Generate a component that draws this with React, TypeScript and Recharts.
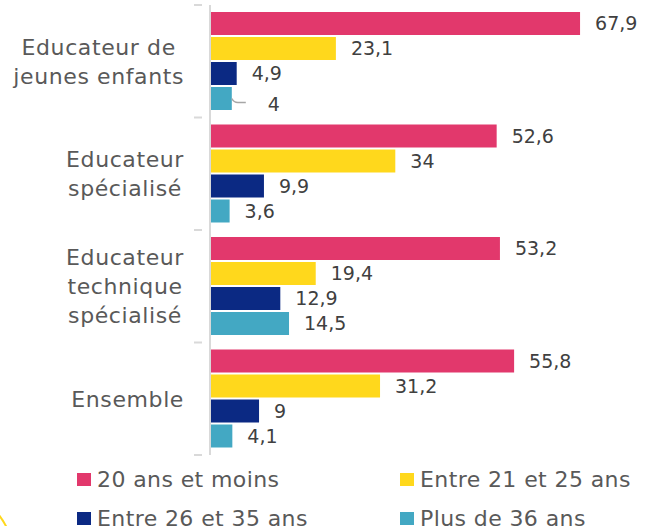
import { BarChart, Bar, XAxis, YAxis, LabelList, Legend } from 'recharts';

// catégories (une ligne par "\n")
const categories = [
  'Educateur de\njeunes enfants',
  'Educateur\nspécialisé',
  'Educateur\ntechnique\nspécialisé',
  'Ensemble',
];

const seriesNames = ['20 ans et moins', 'Entre 21 et 25 ans', 'Entre 26 et 35 ans', 'Plus de 36 ans'];
const seriesColors = ['#E2386C', '#FFD81C', '#0B2983', '#43A8C3'];

const moins20 = [67.9, 52.6, 53.2, 55.8];
const entre21et25 = [23.1, 34, 19.4, 31.2];
const entre26et35 = [4.9, 9.9, 12.9, 9];
const plus36 = [4, 3.6, 14.5, 4.1];

const keys = ['s0', 's1', 's2', 's3'];

const data = categories.map((name, i) => ({
  name,
  s0: moins20[i],
  s1: entre21et25[i],
  s2: entre26et35[i],
  s3: plus36[i],
}));

const FONT = '"DejaVu Sans", sans-serif';
const AXIS_COLOR = '#D9D9D9';
const LETTER = 0.6;

// mesure de texte pour centrer les lignes d'un label multi-ligne
const measure = (text: string, size: number) => {
  const ctx = document.createElement('canvas').getContext('2d');
  if (!ctx) return text.length * size * 0.6;
  ctx.font = `${size}px "DejaVu Sans"`;
  return ctx.measureText(text).width + text.length * LETTER;
};

const CategoryTick = ({ x, y, payload, index }: any) => {
  const lines = String(payload.value).split('\n');
  const size = 22;
  const lh = 29;
  const maxW = Math.max(...lines.map((l) => measure(l, size)));
  const cx = x - 18 - maxW / 2;
  const half = payload.offset || 56.25;
  const startY = y - ((lines.length - 1) * lh) / 2;
  return (
    <g>
      <line x1={x - 8} x2={x} y1={y - half} y2={y - half} stroke={AXIS_COLOR} strokeWidth={2} />
      {index === categories.length - 1 && (
        <line x1={x - 8} x2={x} y1={y + half} y2={y + half} stroke={AXIS_COLOR} strokeWidth={2} />
      )}
      <text textAnchor="middle" fill="#595959" fontSize={size} fontFamily={FONT} letterSpacing={LETTER}>
        {lines.map((l, i) => (
          <tspan key={i} x={cx} y={startY + i * lh} dy="0.36em">
            {l}
          </tspan>
        ))}
      </text>
    </g>
  );
};

const fmt = (v: number) => String(v).replace('.', ',');

// étiquette de valeur à droite de la barre (avec trait de rappel pour le petit "4")
const makeLabel = (serie: number) => (props: any) => {
  const { x, y, width, height, value, index } = props;
  const endX = x + width;
  const cy = y + height / 2;
  if (serie === 3 && index === 0) {
    return (
      <g>
        <path
          d={`M${endX} ${cy} Q${endX + 2} ${cy + 4} ${endX + 6} ${cy + 4} L${endX + 14} ${cy + 4}`}
          stroke="#A6A6A6"
          strokeWidth={1.5}
          fill="none"
        />
        <text x={endX + 36} y={cy + 6} dy="0.36em" fill="#404040" fontSize={19} fontFamily={FONT}>
          {fmt(value)}
        </text>
      </g>
    );
  }
  return (
    <text x={endX + 15} y={cy} dy="0.36em" fill="#404040" fontSize={19} fontFamily={FONT}>
      {fmt(value)}
    </text>
  );
};

const LegendContent = () => (
  <div
    style={{
      position: 'relative',
      top: 12,
      display: 'grid',
      gridTemplateColumns: '323px 240px',
      rowGap: 14,
      paddingLeft: 77,
      height: 64,
      fontFamily: FONT,
      fontSize: 22,
      letterSpacing: 0.4,
      color: '#595959',
    }}
  >
    {seriesNames.map((n, i) => (
      <div key={n} style={{ display: 'flex', alignItems: 'center', height: 24, whiteSpace: 'nowrap' }}>
        <span
          style={{ width: 14, height: 13, background: seriesColors[i], marginRight: 6, display: 'inline-block', flex: 'none' }}
        />
        {n}
      </div>
    ))}
  </div>
);

export default function App() {
  return (
    <div style={{ position: 'absolute', left: 0, top: 0, width: 647, height: 526, background: '#fff', overflow: 'hidden' }}>
      <div
        style={{
          position: 'absolute',
          left: -135,
          top: 485,
          width: 150,
          height: 150,
          borderRadius: '50%',
          border: '2px solid #FFD81C',
          boxSizing: 'border-box',
        }}
      />
      <BarChart
        width={647}
        height={526}
        data={data}
        layout="vertical"
        margin={{ top: 5, right: 1, left: 0, bottom: 7 }}
        barCategoryGap={7}
        barGap={2}
      >
        <XAxis type="number" domain={[0, 80]} hide />
        <YAxis
          type="category"
          dataKey="name"
          width={210}
          axisLine={{ stroke: AXIS_COLOR, strokeWidth: 2 }}
          tickLine={false}
          tick={<CategoryTick />}
          interval={0}
        />
        <Legend verticalAlign="bottom" content={<LegendContent />} />
        {keys.map((k, i) => (
          <Bar key={k} dataKey={k} name={seriesNames[i]} fill={seriesColors[i]} isAnimationActive={false}>
            <LabelList dataKey={k} content={makeLabel(i)} />
          </Bar>
        ))}
      </BarChart>
    </div>
  );
}
